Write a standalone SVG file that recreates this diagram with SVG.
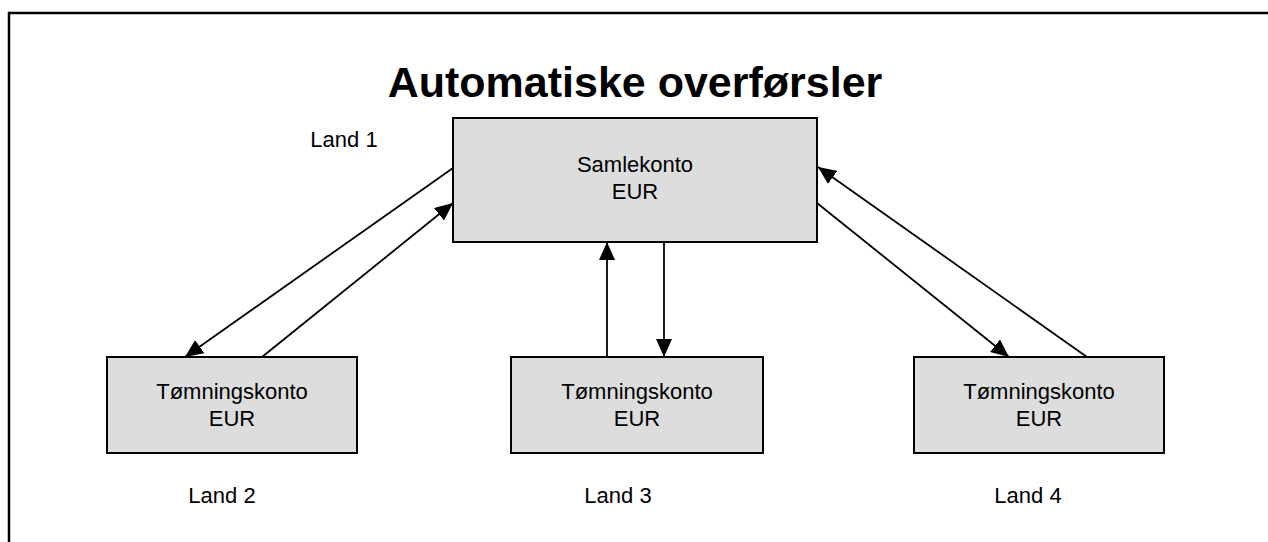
<svg xmlns="http://www.w3.org/2000/svg" width="1268" height="542" viewBox="0 0 1268 542">
<style>
.box{fill:#dddddd;stroke:#000;stroke-width:2}
.t{font-family:"Liberation Sans",Arial,sans-serif;font-size:22px;fill:#000;text-anchor:middle}
.c{stroke:#000;stroke-width:1.8;fill:none}
</style>
<defs>
<marker id="ah" viewBox="0 0 18 16" refX="18" refY="8" markerWidth="18" markerHeight="16" markerUnits="userSpaceOnUse" orient="auto">
<path d="M0,0 L18,8 L0,16 Z" fill="#000"/>
</marker>
</defs>
<rect width="1268" height="542" fill="#fff"/>
<path d="M9,542 V13 H1268" fill="none" stroke="#000" stroke-width="2.5"/>
<text x="635" y="97" font-family="'Liberation Sans',Arial,sans-serif" font-weight="bold" font-size="43" text-anchor="middle">Automatiske overførsler</text>
<g id="connectors">
<line class="c" x1="453" y1="168" x2="185" y2="357" marker-end="url(#ah)"/>
<line class="c" x1="262" y1="357" x2="453" y2="203" marker-end="url(#ah)"/>
<line class="c" x1="607" y1="357" x2="607" y2="242" marker-end="url(#ah)"/>
<line class="c" x1="664" y1="242" x2="664" y2="357" marker-end="url(#ah)"/>
<line class="c" x1="817" y1="203" x2="1009" y2="357" marker-end="url(#ah)"/>
<line class="c" x1="1087" y1="357" x2="818" y2="167" marker-end="url(#ah)"/>
</g>
<g id="samlekonto">
<rect class="box" x="453" y="118" width="364" height="124"/>
<text class="t" x="635" y="172">Samlekonto</text>
<text class="t" x="635" y="199">EUR</text>
</g>
<g id="land1"><text class="t" x="344" y="147">Land 1</text></g>
<g id="tomning2">
<rect class="box" x="107" y="357" width="250" height="96"/>
<text class="t" x="232" y="399">Tømningskonto</text>
<text class="t" x="232" y="426">EUR</text>
</g>
<g id="tomning3">
<rect class="box" x="511" y="357" width="252" height="96"/>
<text class="t" x="637" y="399">Tømningskonto</text>
<text class="t" x="637" y="426">EUR</text>
</g>
<g id="tomning4">
<rect class="box" x="914" y="357" width="250" height="96"/>
<text class="t" x="1039" y="399">Tømningskonto</text>
<text class="t" x="1039" y="426">EUR</text>
</g>
<g id="land2"><text class="t" x="222" y="503">Land 2</text></g>
<g id="land3"><text class="t" x="618" y="503">Land 3</text></g>
<g id="land4"><text class="t" x="1028" y="503">Land 4</text></g>
</svg>
